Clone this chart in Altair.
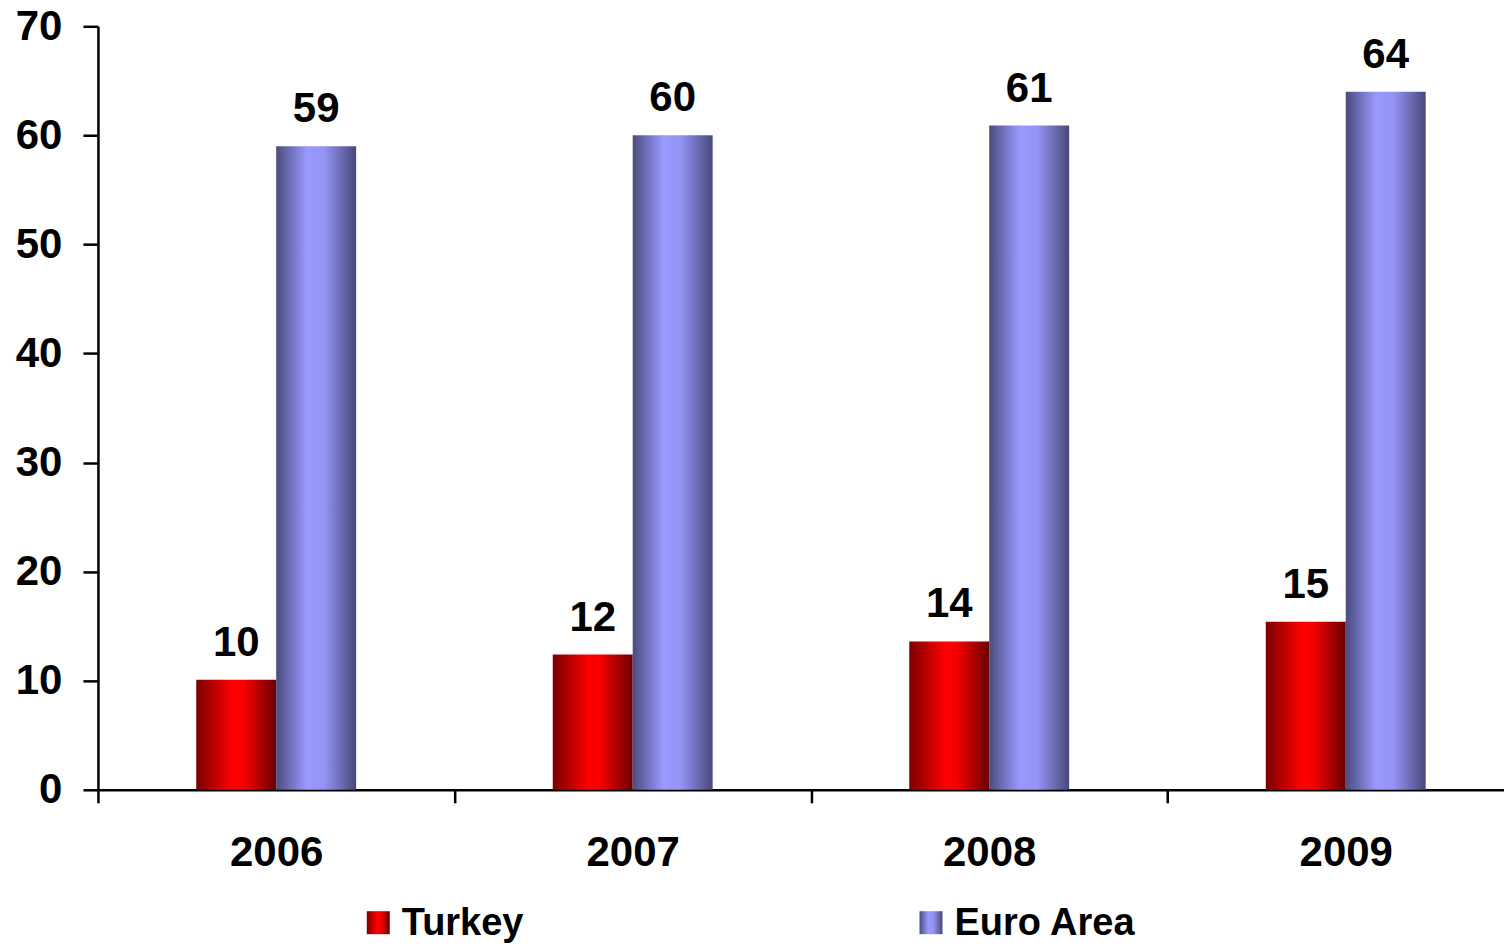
import altair as alt
import pandas as pd

years = ["2006", "2007", "2008", "2009"]
series = ["Turkey", "Euro Area"]
turkey = [10.1, 12.4, 13.6, 15.4]
euro = [59.0, 60.0, 60.9, 64.0]
turkey_labels = ["10", "12", "14", "15"]
euro_labels = ["59", "60", "61", "64"]
y_ticks = [0, 10, 20, 30, 40, 50, 60, 70]

rows = []
for yr, v, lb in zip(years, turkey, turkey_labels):
    rows.append({"year": yr, "series": "Turkey", "value": v, "label": lb})
for yr, v, lb in zip(years, euro, euro_labels):
    rows.append({"year": yr, "series": "Euro Area", "value": v, "label": lb})
df = pd.DataFrame(rows)

FONT = "Liberation Sans"

red = alt.Gradient(
    gradient="linear", x1=0, x2=1, y1=0, y2=0,
    stops=[
        alt.GradientStop(color="#7a0000", offset=0),
        alt.GradientStop(color="#ff0000", offset=0.45),
        alt.GradientStop(color="#f50000", offset=0.6),
        alt.GradientStop(color="#6a0000", offset=1),
    ],
)
purple = alt.Gradient(
    gradient="linear", x1=0, x2=1, y1=0, y2=0,
    stops=[
        alt.GradientStop(color="#4b4b7e", offset=0),
        alt.GradientStop(color="#9999ff", offset=0.38),
        alt.GradientStop(color="#9494f5", offset=0.6),
        alt.GradientStop(color="#48487a", offset=1),
    ],
)

base = alt.Chart(df).encode(
    x=alt.X(
        "year:N", sort=years,
        scale=alt.Scale(paddingInner=0, paddingOuter=0),
        axis=alt.Axis(
            title=None, labelAngle=0, tickBand="extent", tickSize=13,
            tickWidth=2.5, tickColor="black", domainColor="black", domainWidth=2.5,
            labelFont=FONT, labelFontSize=42, labelFontWeight="bold",
            labelColor="black", labelPadding=30,
        ),
    ),
    y=alt.Y(
        "value:Q",
        scale=alt.Scale(domain=[0, 70], nice=False),
        axis=alt.Axis(
            title=None, values=y_ticks, grid=False, tickSize=15, tickWidth=2.5,
            tickColor="black", domainColor="black", domainWidth=2.5,
            labelFont=FONT, labelFontSize=42, labelFontWeight="bold",
            labelColor="black", labelPadding=21,
        ),
    ),
)

is_t = alt.datum.series == "Turkey"
is_e = alt.datum.series == "Euro Area"

bars_t = base.transform_filter(is_t).mark_bar(width=80, xOffset=-40, color=red)
bars_e = base.transform_filter(is_e).mark_bar(width=80, xOffset=40, color=purple)
txt_kw = dict(dy=-24, baseline="alphabetic", font=FONT, fontSize=42,
              fontWeight="bold", color="black")
text_t = base.transform_filter(is_t).mark_text(xOffset=-40, **txt_kw).encode(text="label:N")
text_e = base.transform_filter(is_e).mark_text(xOffset=40, **txt_kw).encode(text="label:N")

main = alt.layer(bars_t, bars_e, text_t, text_e).properties(width=1427, height=764)

leg_df = pd.DataFrame({"series": series})
leg_base = alt.Chart(leg_df).encode(
    x=alt.X("series:N", sort=series,
            scale=alt.Scale(type="point", padding=0.79, align=0.321), axis=None)
)
sq_t = leg_base.transform_filter(is_t).mark_point(
    shape="square", filled=True, size=529, opacity=1, color=red)
sq_e = leg_base.transform_filter(is_e).mark_point(
    shape="square", filled=True, size=529, opacity=1, color=purple)
leg_txt = leg_base.mark_text(
    align="left", dx=23.5, dy=1, baseline="middle", font=FONT, fontSize=38,
    fontWeight="bold", color="black").encode(text="series:N")
legend = alt.layer(sq_t, sq_e, leg_txt).properties(width=1427, height=30)

chart = alt.vconcat(main, legend, spacing=31).properties(
    padding={"left": 7, "top": -3, "right": -22, "bottom": 0}
).configure_view(stroke=None)

chart.save("out.html", embed_options={"renderer": "svg", "actions": False})
